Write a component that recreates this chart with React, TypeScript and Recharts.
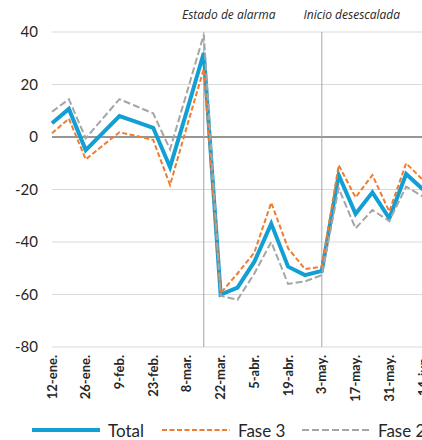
import { LineChart, Line, XAxis, YAxis, CartesianGrid, ReferenceLine } from 'recharts'

const weeks = [
  '12-ene.', '19-ene.', '26-ene.', '2-feb.', '9-feb.', '16-feb.', '23-feb.', '1-mar.',
  '8-mar.', '15-mar.', '22-mar.', '29-mar.', '5-abr.', '12-abr.', '19-abr.', '26-abr.',
  '3-may.', '10-may.', '17-may.', '24-may.', '31-may.', '7-jun.', '14-jun.',
]
const total = [
  5.2, 10.7, -5, 1.5, 8, 5.8, 3.5, -11.5,
  10, 32, -60, -57.4, -47.5, -33, -49.4, -52.6,
  -51, -14.5, -29.3, -21.1, -31, -14.1, -20,
]
const fase3 = [
  1.4, 7, -8.5, -3.3, 1.8, 0.4, -1.1, -18.3,
  4, 26, -59.5, -52, -44, -25, -42.4, -50.3,
  -49.4, -10.7, -23, -14.5, -28.4, -10, -16.4,
]
const fase2 = [
  9.6, 14.4, -0.5, 7, 14.4, 11.7, 9, -4.7,
  17, 39, -60.5, -62, -52, -40, -56, -55,
  -52.6, -19.5, -34.8, -27.8, -32, -18.9, -22.7,
]
const yTicks = [-80, -60, -40, -20, 0, 20, 40]
const events = [
  { week: '15-mar.', label: 'Estado de alarma', dx: 25 },
  { week: '3-may.', label: 'Inicio desescalada', dx: 30 },
]

const data = weeks.map((w, i) => ({ week: w, total: total[i], fase3: fase3[i], fase2: fase2[i] }))

const FONT = 'Lato, "Open Sans", sans-serif'
const TEXT = '#262626'

function WeekTick(props: any) {
  const { x, y, payload, index } = props
  if (index % 2 === 1) return null
  return (
    <g transform={`translate(${x},${y})`}>
      <text x={0} y={0} dy="0.35em" textAnchor="end" transform="rotate(-90)"
        fontFamily={FONT} fontSize={13} fontWeight={700} fill={TEXT}>
        {payload.value}
      </text>
    </g>
  )
}

function eventLabel(text: string, dx: number) {
  return (props: any) => {
    const vb = props.viewBox || {}
    return (
      <text x={vb.x + dx} y={vb.y - 13} textAnchor="middle" fontFamily='"Open Sans", sans-serif'
        fontSize={12} fontStyle="italic" fill={TEXT}>
        {text}
      </text>
    )
  }
}

const legendItems = [
  { name: 'Total', color: '#129fd4', width: 4, dash: undefined, left: 32 },
  { name: 'Fase 3', color: '#ed7d31', width: 2, dash: '5 2.5', left: 162 },
  { name: 'Fase 2', color: '#a5a5a5', width: 2, dash: '7 3', left: 302 },
]

export default function App() {
  return (
    <div style={{ position: 'absolute', left: 0, top: 0, width: 422, height: 440, overflow: 'hidden', background: '#fff' }}>
      <LineChart width={430} height={440} data={data} margin={{ top: 32, right: 7, left: 0, bottom: 33 }}>
        <CartesianGrid vertical={false} stroke="#d9d9d9" />
        <XAxis dataKey="week" interval={0} tick={<WeekTick />} tickLine={false} axisLine={false} height={60} padding={{ left: 0, right: 0 }} />
        <YAxis domain={[-80, 40]} ticks={yTicks} width={52} tickLine={false} axisLine={false} tickSize={6} tickMargin={8}
          tick={{ fontSize: 15, fill: TEXT, fontFamily: FONT }} />
        <ReferenceLine y={0} stroke="#7a7a7a" strokeWidth={1.6} />
        {events.map(e => (
          <ReferenceLine key={e.week} x={e.week} stroke="#a6a6a6" strokeWidth={1} label={eventLabel(e.label, e.dx)} />
        ))}
        <Line dataKey="total" name="Total" stroke="#129fd4" strokeWidth={4} dot={false} isAnimationActive={false} />
        <Line dataKey="fase3" name="Fase 3" stroke="#ed7d31" strokeWidth={2} strokeDasharray="5 2.5" dot={false} isAnimationActive={false} />
        <Line dataKey="fase2" name="Fase 2" stroke="#a5a5a5" strokeWidth={2} strokeDasharray="7 3" dot={false} isAnimationActive={false} />
      </LineChart>
      {legendItems.map(it => (
        <div key={it.name} style={{ position: 'absolute', left: it.left, top: 419, height: 22, display: 'flex', alignItems: 'center', whiteSpace: 'nowrap' }}>
          <svg width={68} height={10} style={{ marginRight: 8 }}>
            <line x1={0} x2={68} y1={5} y2={5} stroke={it.color} strokeWidth={it.width} strokeDasharray={it.dash} />
          </svg>
          <span style={{ fontFamily: FONT, fontSize: 17, color: TEXT }}>{it.name}</span>
        </div>
      ))}
    </div>
  )
}
